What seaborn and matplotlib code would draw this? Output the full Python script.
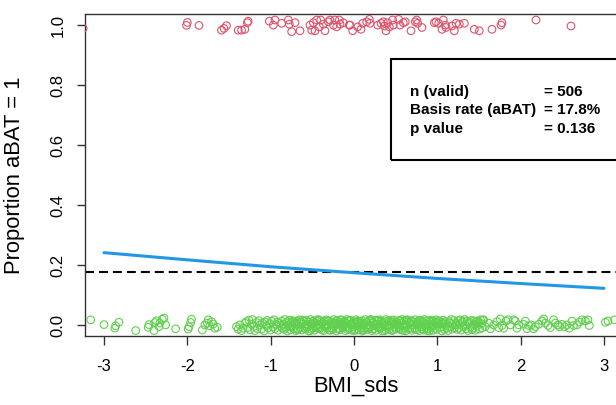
import matplotlib
matplotlib.use("Agg")
import matplotlib.pyplot as plt
from matplotlib.patches import Rectangle
import pandas as pd
import seaborn as sns

# values
red_x = [-3.25, -2.00, -2.01, -1.86, -1.59, -1.56, -1.53, -1.39, -1.35, -1.31,
         -1.28, -1.27, -1.016, -0.968, -0.948, -0.868, -0.788, -0.776, -0.748, -0.708,
         -0.648, -0.528, -0.508, -0.488, -0.468, -0.448, -0.416, -0.400, -0.368, -0.348,
         -0.308, -0.288, -0.248, -0.228, -0.208, -0.176, -0.168, -0.128, -0.056,
         -0.048, -0.016, 0.044, 0.084, 0.104, 0.152, 0.184, 0.192, 0.284, 0.324,
         0.352, 0.364, 0.384, 0.404, 0.424, 0.464, 0.472, 0.536, 0.552, 0.592,
         0.616, 0.684, 0.736, 0.752, 0.764, 0.816, 0.964, 0.984, 1.016, 1.056,
         1.072, 1.096, 1.104, 1.176, 1.204, 1.224, 1.264, 1.324, 1.444, 1.504,
         1.656, 1.764, 1.776, 2.184, 2.604]
red_y = [0.990, 1.010, 1.000, 1.000, 0.984, 0.990, 0.999, 0.984, 0.984, 0.987,
         1.009, 1.014, 1.014, 1.001, 1.018, 1.007, 1.018, 1.004, 0.979, 1.009,
         0.982, 1.001, 0.984, 1.009, 0.982, 1.018, 0.995, 1.018, 1.004, 0.982,
         1.012, 1.018, 1.001, 1.018, 0.995, 1.018, 1.004, 1.009, 1.001,
         1.001, 0.982, 0.995, 0.987, 1.007, 1.012, 1.020, 1.007, 1.001, 1.007,
         1.012, 0.998, 0.982, 1.009, 0.995, 1.018, 1.001, 1.020, 1.001, 1.009,
         1.012, 0.982, 1.012, 1.018, 1.007, 0.993, 1.009, 1.012, 1.007, 0.987,
         1.018, 1.001, 0.993, 0.998, 0.982, 1.007, 1.004, 1.007, 0.987, 0.982,
         0.987, 1.001, 1.009, 1.018, 0.998]

green_x = [
    # sparse left tail
    -3.16, -3.00, -2.87, -2.86, -2.82, -2.62, -2.47, -2.46, -2.40, -2.39,
    -2.37, -2.34, -2.33, -2.30, -2.28, -2.26, -2.14, -1.99, -1.98, -1.96,
    -1.95, -1.82, -1.79, -1.76, -1.75, -1.73, -1.71, -1.69, -1.67, -1.64,
    -1.41, -1.39, -1.37, -1.35, -1.33, -1.31,
    # dense middle
    -1.29, -1.28, -1.26, -1.25, -1.23, -1.22, -1.20, -1.19, -1.17, -1.16,
    -1.14, -1.13, -1.11, -1.10, -1.08, -1.07, -1.05, -1.04, -1.03, -1.01,
    -1.00, -0.99, -0.97, -0.96, -0.95, -0.93, -0.92, -0.91, -0.90, -0.88,
    -0.87, -0.86, -0.85, -0.84, -0.83, -0.82, -0.81, -0.80,
    -0.795, -0.788, -0.776, -0.771, -0.763, -0.752, -0.744, -0.731, -0.722, -0.709,
    -0.698, -0.686, -0.679, -0.668, -0.655, -0.649, -0.637, -0.628, -0.614, -0.603,
    -0.594, -0.585, -0.573, -0.566, -0.551, -0.543, -0.537, -0.522, -0.515, -0.504,
    -0.497, -0.488, -0.474, -0.469, -0.455, -0.447, -0.432, -0.426, -0.413, -0.405,
    -0.396, -0.384, -0.377, -0.365, -0.358, -0.342, -0.335, -0.324, -0.317, -0.302,
    -0.293, -0.286, -0.271, -0.264, -0.256, -0.243, -0.238, -0.225, -0.214, -0.206,
    -0.198, -0.187, -0.176, -0.169, -0.155, -0.148, -0.136, -0.127, -0.115, -0.103,
    -0.097, -0.088, -0.074, -0.066, -0.058, -0.045, -0.037, -0.026, -0.014, -0.005,
    0.004, 0.013, 0.027, 0.034, 0.046, 0.053, 0.068, 0.075, 0.084, 0.096,
    0.103, 0.115, 0.122, 0.137, 0.144, 0.156, 0.163, 0.178, 0.185, 0.197,
    0.206, 0.214, 0.227, 0.235, 0.248, 0.253, 0.266, 0.274, 0.288, 0.295,
    0.304, 0.316, 0.323, 0.334, 0.347, 0.355, 0.368, 0.376, 0.383, 0.397,
    0.405, 0.412, 0.426, 0.433, 0.445, 0.458, 0.464, 0.477, 0.486, 0.493,
    0.507, 0.515, 0.524, 0.536, 0.543, 0.557, 0.565, 0.578, 0.584, 0.598,
    0.603, 0.617, 0.625, 0.632, 0.646, 0.654, 0.667, 0.673, 0.688, 0.695,
    0.708, 0.714, 0.727, 0.735, 0.749, 0.756, 0.764, 0.778, 0.785, 0.796,
    0.806, 0.813, 0.828, 0.837, 0.844, 0.857, 0.866, 0.872, 0.887, 0.894,
    0.903, 0.917, 0.926, 0.934, 0.948, 0.955, 0.967, 0.976, 0.988, 0.994,
    1.007, 1.016, 1.024, 1.037, 1.045, 1.056, 1.068, 1.074, 1.087, 1.095,
    1.104, 1.113, 1.127, 1.138, 1.146, 1.154, 1.167, 1.178, 1.186, 1.197,
    1.206, 1.218, 1.227, 1.236, 1.249, 1.258, 1.266, 1.277, 1.288, 1.297,
    1.308, 1.316, 1.327, 1.339, 1.345, 1.357, 1.368, 1.374, 1.386, 1.397,
    1.405, 1.418, 1.426, 1.437, 1.448, 1.456, 1.467, 1.475, 1.488, 1.496,
    1.507, 1.518, 1.526, 1.537, 1.545,
    # extra points in the crowded centre
    -0.742, -0.713, -0.681, -0.652, -0.621, -0.588, -0.559, -0.528, -0.492, -0.461,
    -0.437, -0.408, -0.372, -0.346, -0.313, -0.281, -0.249, -0.218, -0.192, -0.161,
    -0.132, -0.109, -0.079, -0.051, -0.021, 0.008, 0.038, 0.061, 0.089, 0.118,
    0.149, 0.172, 0.201, 0.231, 0.259, 0.283, 0.311, 0.339, 0.362, 0.391,
    0.419, 0.448, 0.471, 0.502, 0.529, 0.561, 0.589, 0.612, 0.641, 0.669,
    0.702, 0.731, 0.758, 0.789, 0.818, 0.849, 0.879, 0.912, 0.941, 0.972,
    # right tail
    1.556, 1.576, 1.616, 1.636, 1.676, 1.716, 1.736, 1.756, 1.776, 1.796,
    1.824, 1.848, 1.876, 1.916, 1.936, 1.956, 1.976, 2.036, 2.056, 2.076,
    2.096, 2.128, 2.156, 2.176, 2.216, 2.256, 2.276, 2.296, 2.328, 2.356,
    2.396, 2.416, 2.448, 2.464, 2.496, 2.528, 2.556, 2.584, 2.616, 2.636,
    2.676, 2.704, 2.736, 2.776, 2.808, 2.824, 3.016, 3.048, 3.128]
green_y = [
    0.018, 0.002, -0.010, -0.002, 0.010, -0.018, -0.007, 0.002, -0.018, 0.009,
    0.015, -0.005, 0.007, 0.020, 0.024, 0.001, -0.012, -0.013, -0.005, 0.009,
    0.020, -0.016, 0.001, 0.007, 0.018, -0.002, 0.012, 0.004, -0.010, -0.007,
    -0.005, -0.013, 0.001, -0.018, -0.010, 0.007,
    0.012, -0.008, 0.017, -0.015, 0.003, 0.019, -0.004, -0.018, 0.009, -0.011,
    0.015, 0.001, -0.013, 0.007, -0.019, 0.011, -0.002, 0.016, -0.009, 0.005,
    -0.016, 0.013, -0.006, 0.018, -0.012, 0.002, 0.010, -0.017, 0.006, -0.003,
    0.014, -0.010, 0.004, -0.014, 0.019, -0.007, 0.008, -0.019, 0.012, 0.000,
    -0.005, 0.017, -0.015, 0.009, -0.001, 0.015, -0.011, 0.006, -0.018, 0.013,
    0.002, -0.013, 0.018, -0.008, 0.011, -0.016, 0.005, 0.014, -0.003, -0.012,
    0.016, -0.006, 0.001, -0.019, 0.010, 0.019, -0.014, 0.004, -0.009, 0.012,
    -0.017, 0.008, -0.002, 0.015, -0.011, 0.003, 0.017, -0.007, 0.011, -0.015,
    0.006, -0.018, 0.013, -0.004, 0.018, -0.010, 0.000, 0.014, -0.016, 0.009,
    -0.008, 0.011, -0.014, 0.019, -0.003, 0.007, -0.019, 0.016, 0.002, -0.012,
    0.010, -0.015, 0.004, 0.017, -0.009, -0.001, 0.013, -0.018, 0.007, 0.019,
    -0.006, 0.014, -0.012, 0.002, 0.016, -0.017, 0.008, -0.004, 0.011, -0.013,
    0.018, -0.002, 0.009, -0.016, 0.005, 0.012, -0.010, 0.015, -0.019, 0.003,
    -0.011, 0.019, -0.007, 0.010, -0.014, 0.001, 0.017, -0.005, 0.013, -0.018,
    0.008, -0.012, 0.016, -0.001, -0.017, 0.014, 0.004, -0.009, 0.018, -0.006,
    0.013, -0.019, 0.006, 0.011, -0.003, -0.015, 0.019, 0.000, -0.010, 0.015,
    -0.014, 0.005, 0.012, -0.018, 0.009, 0.017, -0.006, 0.003, -0.013, 0.010,
    0.001, 0.016, -0.011, 0.007, -0.016, 0.019, -0.002, -0.008, 0.014, -0.019,
    0.017, -0.004, -0.013, 0.012, 0.006, -0.010, 0.015, -0.017, 0.002, 0.009,
    -0.009, 0.018, 0.003, -0.015, 0.013, -0.001, -0.018, 0.010, 0.016, -0.005,
    0.011, -0.016, 0.019, 0.004, -0.008, 0.014, -0.012, 0.001, -0.019, 0.017,
    -0.003, 0.009, -0.017, 0.015, 0.000, -0.011, 0.018, -0.014, 0.006, 0.012,
    0.014, -0.007, 0.010, -0.019, 0.017, 0.005, -0.015, 0.011, -0.002, -0.010,
    -0.018, 0.012, -0.005, 0.008, 0.019, -0.013, 0.003, 0.016, -0.008, 0.001,
    0.007, -0.014, 0.015, -0.010, 0.002, 0.018, -0.016, 0.009, 0.013, -0.004,
    0.019, -0.001, -0.012, 0.013, -0.018, 0.006, 0.010, -0.006, 0.016, -0.015,
    -0.010, 0.015, 0.002, -0.017, 0.011, -0.003, 0.014, 0.008, -0.013, 0.018,
    0.005, -0.009, 0.017,
    -0.004, 0.011, -0.015, 0.006, 0.017, -0.009, 0.002, -0.019, 0.014, -0.007,
    0.019, -0.012, 0.008, -0.001, 0.015, -0.017, 0.004, 0.012, -0.010, 0.018,
    -0.006, 0.009, -0.014, 0.016, 0.001, -0.018, 0.013, -0.003, 0.007, -0.016,
    0.010, -0.008, 0.019, -0.013, 0.003, 0.015, -0.011, 0.006, -0.019, 0.012,
    -0.002, 0.017, -0.015, 0.009, -0.005, 0.014, -0.017, 0.001, 0.018, -0.009,
    0.011, -0.014, 0.005, 0.016, -0.012, 0.002, -0.018, 0.013, -0.006, 0.010,
    0.018, -0.005, 0.007, -0.012, 0.001, 0.012, -0.008, 0.021, -0.001, -0.010,
    0.014, 0.018, 0.001, 0.018, 0.014, -0.010, 0.001, 0.003, 0.014, -0.012,
    -0.001, 0.001, -0.012, -0.005, 0.003, 0.014, 0.021, 0.007, -0.001, -0.008,
    0.018, 0.007, 0.001, -0.005, 0.003, -0.005, 0.001, -0.010, 0.014, -0.001,
    0.001, 0.010, 0.018, 0.014, 0.018, -0.001, 0.010, 0.014, 0.018]

# fitted logistic curve, read at whole BMI_sds values
fit_x = [-3, -2, -1, 0, 1, 2, 3]
fit_y = [0.242, 0.218, 0.195, 0.175, 0.156, 0.139, 0.123]

basis_rate = 0.178
x_ticks = [-3, -2, -1, 0, 1, 2, 3]
y_ticks = [0.0, 0.2, 0.4, 0.6, 0.8, 1.0]
info_labels = ["n (valid)", "Basis rate (aBAT)", "p value"]
info_values = ["= 506", "= 17.8%", "= 0.136"]

red = "#DF536B"
green = "#61D04F"
blue = "#2297E6"

sns.set_theme(style="white")
plt.rcParams["font.family"] = ["Liberation Sans", "DejaVu Sans"]
plt.rcParams["text.color"] = "black"
plt.rcParams["axes.labelcolor"] = "black"
plt.rcParams["xtick.color"] = "black"
plt.rcParams["ytick.color"] = "black"

fig = plt.figure(figsize=(6.16, 4.05), dpi=100)
# right edge of the box lies just past the picture, as in the reference crop
ax = fig.add_axes([85 / 616, 69 / 405, 541 / 616, 322 / 405])

pts = pd.DataFrame({"x": red_x + green_x,
                    "y": red_y + green_y,
                    "aBAT": ["1"] * len(red_x) + ["0"] * len(green_x)})
for grp, col in [("0", green), ("1", red)]:
    sub = pts[pts["aBAT"] == grp]
    sns.scatterplot(data=sub, x="x", y="y", ax=ax, color=col, facecolor="none",
                    edgecolor=col, s=30, linewidth=0.8, legend=False, zorder=3)

ax.axhline(basis_rate, color="black", lw=1.5, dashes=(4.3, 2.4), zorder=2)
sns.lineplot(x=fit_x, y=fit_y, ax=ax, color=blue, lw=2.2, zorder=4)

ax.set_xlim(-3.228, 3.264)
ax.set_ylim(-0.036, 1.038)

# info box
ax.add_patch(Rectangle((0.444, 0.551), 4.0, 0.336, fill=False, ec="black",
                       lw=1.5, zorder=5))
for lab, val, yy in zip(info_labels, info_values, [0.778, 0.717, 0.654]):
    ax.text(0.67, yy, lab, fontsize=11, fontweight="bold", va="center",
            color="black", zorder=6)
    ax.text(2.28, yy, val, fontsize=11, fontweight="bold", va="center",
            color="black", zorder=6)

ax.set_xticks(x_ticks)
ax.set_xticklabels([str(t) for t in x_ticks])
ax.set_yticks(y_ticks)
ax.set_yticklabels([f"{t:.1f}" for t in y_ticks], rotation=90, va="center")
ax.tick_params(axis="x", length=6.5, width=1, color="#333333", pad=10,
               labelsize=12, labelcolor="black", bottom=True)
ax.tick_params(axis="y", length=5.5, width=1, color="#333333", pad=8.5,
               labelsize=12, labelcolor="black", left=True)

ax.set_xlabel("BMI_sds", fontsize=15.8, color="black")
ax.set_ylabel("Proportion aBAT = 1", fontsize=15.8, color="black")
ax.xaxis.set_label_coords(0.5, -0.124)
ax.yaxis.set_label_coords(-0.111, 0.5)

for side in ["left", "top", "bottom"]:
    ax.spines[side].set_color("#333333")
    ax.spines[side].set_linewidth(1.0)
ax.spines["right"].set_visible(False)

fig.savefig("out.png", dpi=100)
